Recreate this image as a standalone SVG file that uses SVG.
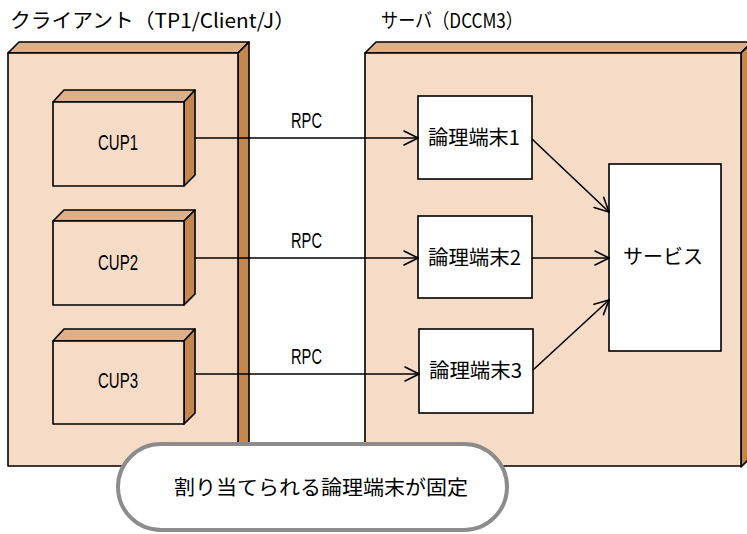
<svg xmlns="http://www.w3.org/2000/svg" width="747" height="534" viewBox="0 0 747 534">
<defs>
<style>
.front{fill:#F6DCC6;stroke:#000;stroke-width:1.6;stroke-linejoin:round}
.top{fill:#DDB08A;stroke:#000;stroke-width:1.6;stroke-linejoin:round}
.side{fill:#C4884F;stroke:#000;stroke-width:1.6;stroke-linejoin:round}
.wbox{fill:#fff;stroke:#000;stroke-width:1.6}
.t{font-family:"Noto Sans CJK JP","Liberation Sans",sans-serif;font-size:20px;fill:#000}
.l{font-family:"Liberation Sans","Noto Sans CJK JP",sans-serif;font-size:22px;fill:#000}
.conn{stroke:#000;stroke-width:1.6;fill:none}
.head{stroke:#000;stroke-width:1.6;fill:none;stroke-linecap:round}
</style>
<marker id="arr" viewBox="0 0 16 16" refX="15" refY="8" markerWidth="16" markerHeight="16" markerUnits="userSpaceOnUse" orient="auto">
<path d="M1,1 L15,8 L1,15" class="head"/>
</marker>
</defs>
<rect width="747" height="534" fill="#fff"/>

<text class="t" x="10" y="28" textLength="285" lengthAdjust="spacingAndGlyphs">クライアント（TP1/Client/J）</text>
<text class="t" x="381" y="28" textLength="142" lengthAdjust="spacingAndGlyphs">サーバ（DCCM3）</text>

<g id="client">
<polygon class="top" points="8,53 19,42 249,42 238,53"/>
<polygon class="side" points="238,53 249,42 249,456 238,467"/>
<rect class="front" x="8" y="53" width="230" height="413"/>
</g>

<g id="server">
<polygon class="top" points="365,53 376,42 752,42 741,53"/>
<polygon class="side" points="741,53 752,42 752,456 741,467"/>
<rect class="front" x="365" y="53" width="376" height="413"/>
</g>

<g id="cup1">
<polygon class="top" points="53,102 64,90 195,90 184,102"/>
<polygon class="side" points="184,102 195,90 195,175 184,186"/>
<rect class="front" x="53" y="102" width="131" height="84"/>
<text class="l" x="98" y="150" textLength="40" lengthAdjust="spacingAndGlyphs">CUP1</text>
</g>
<g id="cup2">
<polygon class="top" points="53,221 64,210 195,210 184,221"/>
<polygon class="side" points="184,221 195,210 195,294 184,305"/>
<rect class="front" x="53" y="221" width="131" height="84"/>
<text class="l" x="98" y="270" textLength="40" lengthAdjust="spacingAndGlyphs">CUP2</text>
</g>
<g id="cup3">
<polygon class="top" points="53,341 64,329 195,329 184,341"/>
<polygon class="side" points="184,341 195,329 195,413 184,424"/>
<rect class="front" x="53" y="341" width="131" height="83"/>
<text class="l" x="98" y="388" textLength="40" lengthAdjust="spacingAndGlyphs">CUP3</text>
</g>

<g id="lt1">
<rect class="wbox" x="418" y="96" width="114" height="83"/>
<text class="t" x="428" y="145" textLength="92" lengthAdjust="spacingAndGlyphs">論理端末1</text>
</g>
<g id="lt2">
<rect class="wbox" x="418" y="216" width="114" height="82"/>
<text class="t" x="428" y="265" textLength="93" lengthAdjust="spacingAndGlyphs">論理端末2</text>
</g>
<g id="lt3">
<rect class="wbox" x="419" y="329" width="114" height="84"/>
<text class="t" x="429" y="378" textLength="93" lengthAdjust="spacingAndGlyphs">論理端末3</text>
</g>
<g id="service">
<rect class="wbox" x="609" y="164" width="112" height="187"/>
<text class="t" x="623" y="264" textLength="80" lengthAdjust="spacingAndGlyphs">サービス</text>
</g>

<g id="connectors">
<line class="conn" x1="195" y1="138" x2="418" y2="138" marker-end="url(#arr)"/>
<line class="conn" x1="195" y1="258" x2="418" y2="258" marker-end="url(#arr)"/>
<line class="conn" x1="195" y1="374" x2="419" y2="374" marker-end="url(#arr)"/>
<line class="conn" x1="532" y1="139" x2="609" y2="212" marker-end="url(#arr)"/>
<line class="conn" x1="532" y1="258" x2="609" y2="258" marker-end="url(#arr)"/>
<line class="conn" x1="533" y1="370" x2="609" y2="300" marker-end="url(#arr)"/>
<text class="l" x="291" y="128" textLength="31" lengthAdjust="spacingAndGlyphs">RPC</text>
<text class="l" x="291" y="248" textLength="31" lengthAdjust="spacingAndGlyphs">RPC</text>
<text class="l" x="291" y="364" textLength="31" lengthAdjust="spacingAndGlyphs">RPC</text>
</g>

<g id="note">
<rect x="118" y="444" width="389" height="86" rx="43" ry="43" fill="#fff" stroke="#8C8C8C" stroke-width="4"/>
<text class="t" x="174" y="495" textLength="294" lengthAdjust="spacingAndGlyphs">割り当てられる論理端末が固定</text>
</g>
</svg>
